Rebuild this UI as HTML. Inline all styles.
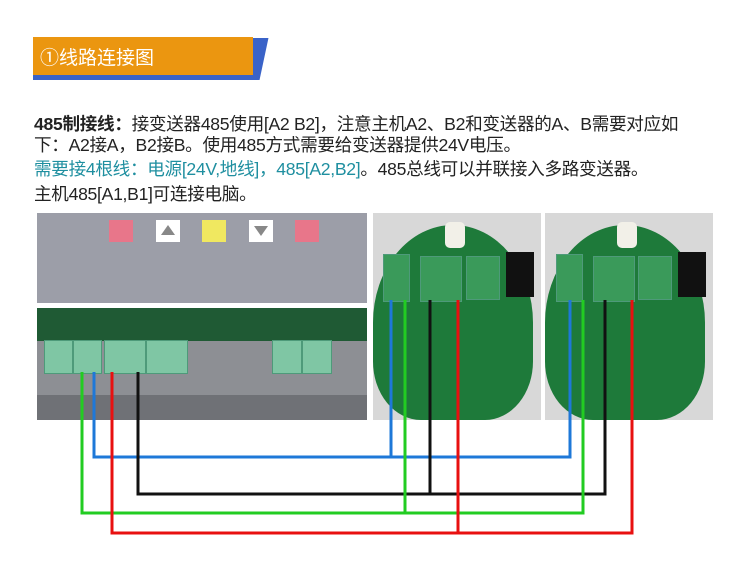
<!DOCTYPE html><html><head><meta charset="utf-8"><style>
body{margin:0;width:750px;height:575px;background:#fff;position:relative;overflow:hidden;font-family:"Liberation Sans","Noto Sans CJK SC",sans-serif}
.a{position:absolute}
.t{position:absolute;left:34px;font-size:17.6px;color:#222;white-space:nowrap;letter-spacing:-0.3px}
.tb{position:absolute;background:#7fc6a4;border:1px solid #4e9a7a}
</style></head><body>
<div class="a" style="left:246px;top:38px;width:18px;height:42px;background:#3a63c8;transform:skewX(-12deg)"></div>
<div class="a" style="left:33px;top:74px;width:222px;height:6px;background:#3a63c8"></div>
<div class="a" style="left:33px;top:37px;width:220px;height:38px;background:#eb9610"></div>
<div class="a" style="left:40px;top:43px;color:#fff;font-size:19px">①线路连接图</div>
<div class="t" style="top:111px"><b>485制接线：</b>接变送器485使用[A2 B2]，注意主机A2、B2和变送器的A、B需要对应如</div>
<div class="t" style="top:132px">下：A2接A，B2接B。使用485方式需要给变送器提供24V电压。</div>
<div class="t" style="top:156px"><span style="color:#1f8fa0">需要接4根线：电源[24V,地线]，485[A2,B2]</span>。485总线可以并联接入多路变送器。</div>
<div class="t" style="top:181px">主机485[A1,B1]可连接电脑。</div>

<div class="a" style="left:37px;top:213px;width:330px;height:90px;background:#9c9ea8"></div>
<div class="a" style="left:109px;top:220px;width:24px;height:22px;background:#e8768a"></div>
<div class="a" style="left:156px;top:220px;width:24px;height:22px;background:#fff"></div>
<div class="a" style="left:161px;top:225px;width:0;height:0;border:7px solid transparent;border-bottom:10px solid #888;border-top:0"></div>
<div class="a" style="left:202px;top:220px;width:24px;height:22px;background:#f0e860"></div>
<div class="a" style="left:249px;top:220px;width:24px;height:22px;background:#fff"></div>
<div class="a" style="left:254px;top:226px;width:0;height:0;border:7px solid transparent;border-top:10px solid #888;border-bottom:0"></div>
<div class="a" style="left:295px;top:220px;width:24px;height:22px;background:#e8768a"></div>
<div class="a" style="left:37px;top:308px;width:330px;height:112px;background:#8d8f94"></div>
<div class="a" style="left:37px;top:395px;width:330px;height:25px;background:#6f7176"></div>
<div class="a" style="left:37px;top:308px;width:330px;height:33px;background:#1f5a34"></div>
<div class="tb" style="left:44px;top:340px;width:27px;height:32px"></div>
<div class="tb" style="left:73px;top:340px;width:27px;height:32px"></div>
<div class="tb" style="left:104px;top:340px;width:40px;height:32px"></div>
<div class="tb" style="left:146px;top:340px;width:40px;height:32px"></div>
<div class="tb" style="left:272px;top:340px;width:28px;height:32px"></div>
<div class="tb" style="left:302px;top:340px;width:28px;height:32px"></div>

<div class="a" style="left:373px;top:213px;width:168px;height:207px;background:#d8d8d8"></div>
<div class="a" style="left:373px;top:225px;width:160px;height:195px;background:#1e7a3a;border-radius:50% 50% 30% 30%"></div>
<div class="a" style="left:545px;top:213px;width:168px;height:207px;background:#d8d8d8"></div>
<div class="a" style="left:545px;top:225px;width:160px;height:195px;background:#1e7a3a;border-radius:50% 50% 30% 30%"></div>
<div class="a" style="left:445px;top:222px;width:20px;height:26px;background:#f2f0e8;border-radius:5px"></div>
<div class="a" style="left:617px;top:222px;width:20px;height:26px;background:#f2f0e8;border-radius:5px"></div>
<div class="tb" style="left:383px;top:254px;width:25px;height:46px;background:#3a9a5a"></div>
<div class="tb" style="left:420px;top:256px;width:40px;height:44px;background:#3a9a5a"></div>
<div class="tb" style="left:466px;top:256px;width:32px;height:42px;background:#3a9a5a"></div>
<div class="a" style="left:506px;top:252px;width:28px;height:45px;background:#111"></div>
<div class="tb" style="left:556px;top:254px;width:25px;height:46px;background:#3a9a5a"></div>
<div class="tb" style="left:593px;top:256px;width:40px;height:44px;background:#3a9a5a"></div>
<div class="tb" style="left:638px;top:256px;width:32px;height:42px;background:#3a9a5a"></div>
<div class="a" style="left:678px;top:252px;width:28px;height:45px;background:#111"></div>

<svg class="a" style="left:0;top:0" width="750" height="575" fill="none" stroke-width="3">
<path d="M94 372V457H570V300M391 300V457" stroke="#1e78d8"/>
<path d="M138 372V494H605V300M430 300V494" stroke="#111"/>
<path d="M82 372V513H583V300M405 300V513" stroke="#22cc22"/>
<path d="M112 372V533H632V300M458 300V533" stroke="#e81010"/>
</svg>
</body></html>
